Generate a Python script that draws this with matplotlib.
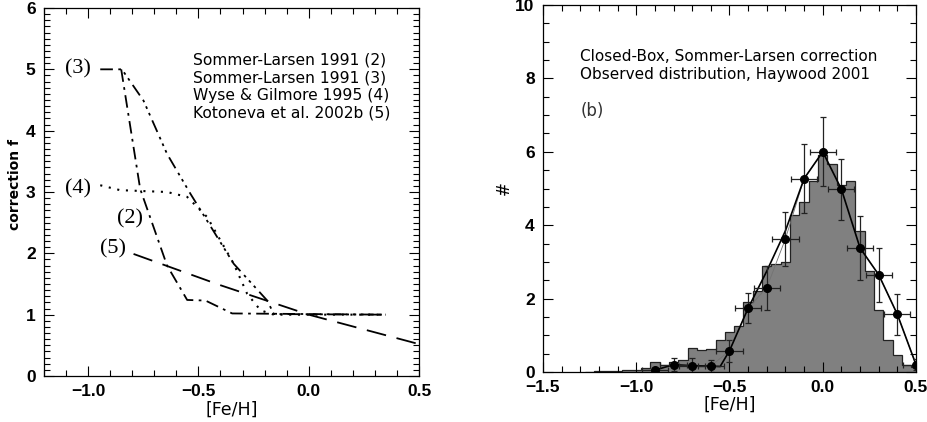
import matplotlib
matplotlib.use("Agg")
import matplotlib.pyplot as plt
import numpy as np
from matplotlib.ticker import MultipleLocator

# ---------------- Left panel data ----------------
c2_x = [-0.85, -0.764, -0.642, -0.551, -0.468, -0.347, 0.35]
c2_y = [5.0, 3.05, 1.80, 1.24, 1.23, 1.02, 1.0]
c3_x = [-0.945, -0.847, -0.749, -0.642, -0.536, -0.34, -0.188, -0.158, 0.35]
c3_y = [5.0, 5.0, 4.49, 3.62, 2.97, 1.83, 1.23, 1.01, 1.0]
c4_x = [-0.945, -0.855, -0.642, -0.551, -0.46, -0.34, -0.279, -0.218, -0.158, 0.35]
c4_y = [3.11, 3.03, 3.0, 2.92, 2.59, 1.83, 1.34, 1.07, 1.0, 1.0]
c5_x = [-0.794, -0.4, 0.0, 0.5]
c5_y = [1.99, 1.48, 1.0, 0.52]
legend_lines = ["Sommer-Larsen 1991 (2)", "Sommer-Larsen 1991 (3)",
                "Wyse & Gilmore 1995 (4)", "Kotoneva et al. 2002b (5)"]
curve_labels = ["(3)", "(4)", "(2)", "(5)"]
curve_label_x = [-1.047, -1.047, -0.812, -0.888]
curve_label_y = [5.0, 3.05, 2.56, 2.07]

# ---------------- Right panel data ----------------
hist_centers = np.round(np.arange(-1.25, 0.5001, 0.05), 3)
hist_values = [0.01, 0.02, 0.02, 0.04, 0.05, 0.06, 0.11, 0.27, 0.2, 0.27, 0.33,
               0.65, 0.6, 0.62, 0.88, 1.08, 1.24, 1.92, 2.22, 2.9, 2.95, 3.0,
               4.28, 4.62, 5.2, 5.92, 5.66, 5.1, 5.2, 3.83, 2.74, 1.7, 0.88,
               0.46, 0.2, 0.14]
obs_x = [-0.9, -0.8, -0.7, -0.6, -0.5, -0.4, -0.3, -0.2, -0.1, 0.0, 0.1, 0.2, 0.3, 0.4, 0.5]
obs_y = [0.05, 0.2, 0.17, 0.16, 0.58, 1.74, 2.3, 3.63, 5.27, 6.0, 4.98, 3.38, 2.65, 1.57, 0.2]
obs_yerr = [0.05, 0.18, 0.2, 0.17, 0.3, 0.4, 0.6, 0.73, 0.94, 0.94, 0.83, 0.88, 0.74, 0.56, 0.15]
obs_xerr = 0.07
line_x = [-0.9, -0.8, -0.7, -0.6, -0.55, -0.5, -0.4, -0.3, -0.2, -0.1, 0.0, 0.1, 0.2, 0.3, 0.4, 0.5]
line_y = [0.05, 0.2, 0.17, 0.16, 0.15, 0.58, 1.74, 2.75, 3.85, 5.27, 6.0, 4.98, 3.38, 2.65, 1.57, 0.2]
right_texts = ["Closed-Box, Sommer-Larsen correction", "Observed distribution, Haywood 2001"]

plt.rcParams['font.family'] = ['DejaVu Sans']

fig = plt.figure(figsize=(9.28, 4.22), dpi=100)
axL = fig.add_axes([44/928, 46/422, 375/928, 368/422])
axR = fig.add_axes([543/928, 50/422, 373/928, 367/422])

tickfont = dict(family='Liberation Sans', size=12.5, weight='bold')

def style(ax):
    ax.tick_params(which='both', direction='in', top=True, right=True, width=0.8)
    ax.tick_params(which='major', length=7, pad=6)
    ax.tick_params(which='minor', length=4)
    for s in ax.spines.values():
        s.set_linewidth(0.9)
    for lab in ax.get_xticklabels() + ax.get_yticklabels():
        lab.set_fontproperties(matplotlib.font_manager.FontProperties(**tickfont))

# Left panel
lw = 1.3
axL.plot(c2_x, c2_y, color='black', lw=lw, linestyle=(0, (7, 3, 1.5, 3)))
axL.plot(c3_x, c3_y, color='black', lw=lw, linestyle=(0, (7, 3, 1.5, 2.5, 1.5, 2.5, 1.5, 3)))
axL.plot(c4_x, c4_y, color='black', lw=1.5, linestyle=(0, (1.0, 3.2)))
axL.plot(c5_x, c5_y, color='black', lw=lw, linestyle=(0, (11, 6)))
axL.set_xlim(-1.2, 0.5)
axL.set_ylim(0, 6)
axL.xaxis.set_major_locator(MultipleLocator(0.5))
axL.xaxis.set_minor_locator(MultipleLocator(0.1))
axL.yaxis.set_major_locator(MultipleLocator(1))
axL.yaxis.set_minor_locator(MultipleLocator(0.1))
axL.set_xticks([-1.0, -0.5, 0.0, 0.5])
axL.set_xticklabels(['\u22121.0', '\u22120.5', '0.0', '0.5'])
style(axL)
xl = axL.set_xlabel('[Fe/H]', fontsize=12.5)
xl.set_va('center')
axL.xaxis.set_label_coords(0.5, -0.092)
yl = axL.set_ylabel('correction f', fontsize=10, fontweight='bold')
yl.set_va('center')
axL.yaxis.set_label_coords(-0.077, 0.52)
for i, t in enumerate(legend_lines):
    axL.text(-0.523, 5.15 - i * 0.29, t, fontsize=11.2, va='center', ha='left')
for t, x, y in zip(curve_labels, curve_label_x, curve_label_y):
    axL.text(x, y, t, fontsize=16, family='Liberation Serif', ha='center', va='center')

# Right panel
edges = np.append(hist_centers - 0.025, hist_centers[-1] + 0.025)
axR.stairs(hist_values, edges, fill=True, color='#808080', baseline=0)
axR.stairs(hist_values, edges, fill=False, color='#222222', lw=0.9, baseline=0)
axR.plot(obs_x, obs_y, color='0.45', lw=0.6)
axR.plot(line_x, line_y, color='black', lw=1.2)
axR.errorbar(obs_x, obs_y, xerr=obs_xerr, yerr=obs_yerr, fmt='o', color='black',
             ms=5.5, capsize=2.5, elinewidth=0.9, capthick=0.9, ecolor='#222222')
axR.set_xlim(-1.5, 0.5)
axR.set_ylim(0, 10)
axR.xaxis.set_major_locator(MultipleLocator(0.5))
axR.xaxis.set_minor_locator(MultipleLocator(0.1))
axR.yaxis.set_major_locator(MultipleLocator(2))
axR.yaxis.set_minor_locator(MultipleLocator(0.5))
axR.set_xticks([-1.5, -1.0, -0.5, 0.0, 0.5])
axR.set_xticklabels(['\u22121.5', '\u22121.0', '\u22120.5', '0.0', '0.5'])
style(axR)
xr = axR.set_xlabel('[Fe/H]', fontsize=12.5)
xr.set_va('center')
axR.xaxis.set_label_coords(0.5, -0.09)
yr = axR.set_ylabel('#', fontsize=12)
yr.set_va('center')
axR.yaxis.set_label_coords(-0.105, 0.5)
axR.text(-1.30, 8.6, right_texts[0], fontsize=11, va='center', ha='left')
axR.text(-1.30, 8.1, right_texts[1], fontsize=11, va='center', ha='left')
axR.text(-1.30, 7.1, '(b)', fontsize=12, va='center', ha='left', color='#333333')

fig.savefig('out.png', dpi=100)
